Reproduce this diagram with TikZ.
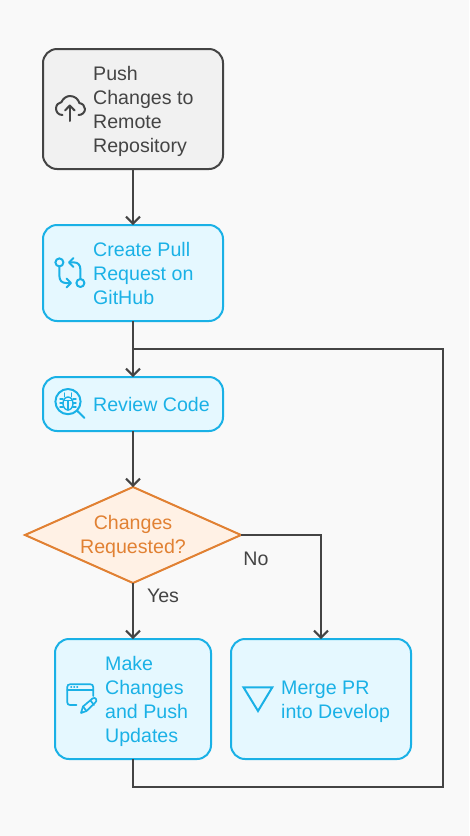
\documentclass[tikz,border=0pt]{standalone}
\usepackage{fontspec}
\setmainfont{Liberation Sans}
\usetikzlibrary{arrows.meta,shapes.geometric}
\definecolor{bgc}{HTML}{F9F9F9}
\definecolor{ink}{HTML}{444444}
\definecolor{blu}{HTML}{1AB1E6}
\definecolor{blufill}{HTML}{E5F8FF}
\definecolor{gryfill}{HTML}{F1F1F1}
\definecolor{org}{HTML}{E18133}
\definecolor{orgfill}{HTML}{FFF1E5}
\tikzset{
  x=1pt,y=-1pt,
  boxbase/.style={draw,line width=2pt,rounded corners=14pt,inner sep=0pt,outer sep=0pt,anchor=north west},
  graybox/.style={boxbase,draw=ink,fill=gryfill},
  bluebox/.style={boxbase,draw=blu,fill=blufill},
  orgdiamond/.style={diamond,draw=org,fill=orgfill,line width=2pt,aspect=2.25,inner sep=0pt,outer sep=0pt,minimum width=216pt,minimum height=96pt,
    text=org,align=center,font=\fontsize{19.6}{24}\selectfont},
  lab/.style={inner sep=0pt,anchor=west,align=left,font=\fontsize{19.6}{24}\selectfont},
  edgelab/.style={inner sep=0pt,text=ink,font=\fontsize{19.6}{24}\selectfont},
  conn/.style={draw=ink,line width=2pt,rounded corners=0pt},
  arr/.style={conn,-{Straight Barb[length=7pt,width=14pt,line width=2pt]}},
  ico/.style={line width=2pt,line cap=round,line join=round},
  icothin/.style={line width=1.4pt,line cap=round,line join=round}
}
\begin{document}
\begin{tikzpicture}
\useasboundingbox[fill=bgc] (0,0) rectangle (469,836);
% boxes
\node[graybox,minimum width=180pt,minimum height=120pt] (push) at (43,49) {};
\node[bluebox,minimum width=180pt,minimum height=96pt] (pull) at (43,225) {};
\node[bluebox,minimum width=180pt,minimum height=54pt] (review) at (43,377) {};
\node[orgdiamond] (dec) at (133,535) {\rule{0pt}{17.5pt}Changes\\Requested?};
\node[bluebox,minimum width=156pt,minimum height=120pt] (make) at (55,639) {};
\node[bluebox,minimum width=180pt,minimum height=120pt] (merge) at (231,639) {};
% texts
\node[lab,text=ink] (tpush) at (93,111.2) {Push\\Changes to\\Remote\\Repository};
\node[lab,text=blu] (tpull) at (93,273.8) {Create Pull\\Request on\\GitHub};
\node[lab,text=blu] (treview) at (93,404.3) {Review Code};
\node[lab,text=blu] (tmake) at (105,701.3) {Make\\Changes\\and Push\\Updates};
\node[lab,text=blu] (tmerge) at (281,701.5) {Merge PR\\into Develop};
\node[edgelab] (lno) at (256,558.6) {No};
\node[edgelab] (lyes) at (163,595.4) {Yes};
% connector helpers
\coordinate (a1) at (133,787);
\coordinate (a2) at (443,787);
\coordinate (a3) at (443,349);
\coordinate (a4) at (133,349);
\coordinate (b1) at (321,535);
% connectors
\draw[arr] (push.south) -- (pull.north);
\draw[arr] (pull.south) -- (review.north);
\draw[arr] (review.south) -- (dec.north);
\draw[arr] (dec.south) -- (make.north -| dec.south);
\draw[arr] (dec.east) -- (b1) -- (merge.north -| b1);
\draw[conn] (make.south -| a1) -- (a1) -- (a2) -- (a3) -- (a4);
% cloud icon
\begin{scope}[ico,draw=ink]
\draw (62.5,115) .. controls (58,115) and (56,111.5) .. (56,108.5)
  .. controls (56,105) and (58.5,102.5) .. (61.5,102)
  .. controls (63,98.5) and (66.5,96) .. (70,96)
  .. controls (75,96) and (78.5,99.5) .. (79.3,103)
  .. controls (82.5,103.5) and (85,106) .. (85,109)
  .. controls (85,112.5) and (82,115) .. (78.5,115);
\draw (69.8,121) -- (69.8,106);
\draw (65,110.5) -- (69.8,105.5) -- (74.6,110.5);
\end{scope}
% pull-request icon
\begin{scope}[ico,draw=blu]
\draw (59.4,262.4) circle (4);
\draw (80.4,283) circle (4);
\draw (59.4,266.4) -- (59.4,276) .. controls (59.4,280.5) and (62,283) .. (66,283) -- (70.5,283);
\draw (66.5,278.5) -- (71,283) -- (66.5,287.5);
\draw (80.4,279) -- (80.4,269.5) .. controls (80.4,265) and (78,262.4) .. (74,262.4) -- (69.5,262.4);
\draw (73.5,258) -- (69,262.4) -- (73.5,267);
\end{scope}
% bug-magnifier icon
\begin{scope}[ico,draw=blu]
\draw (68,401.6) circle (12.6);
\draw (77,410.6) -- (84.5,418);
\end{scope}
\begin{scope}[icothin,draw=blu]
\draw (68,403.5) ellipse (5 and 6.5);
\draw (63.5,400.5) -- (72.5,400.5);
\draw (68,400.5) -- (68,410);
\draw (64.5,393) -- (64.5,396.8) (71.5,393) -- (71.5,396.8);
\draw (60,399) -- (63,399) (60,403) -- (63,403) (60,407) -- (63,407);
\draw (73,399) -- (76,399) (73,403) -- (76,403) (73,407) -- (76,407);
\end{scope}
% window and pencil icon
\begin{scope}[icothin,draw=blu,line width=1.7pt]
\draw (76.5,705) -- (70,705) .. controls (68.3,705) and (67.3,704) .. (67.3,702.3) -- (67.3,687) .. controls (67.3,685.3) and (68.3,684.3) .. (70,684.3) -- (90.5,684.3) .. controls (92.2,684.3) and (93.2,685.3) .. (93.2,687) -- (93.2,696);
\draw (67.3,689.8) -- (93.2,689.8);
\draw (71,687) -- (71.5,687) (74,687) -- (74.5,687) (77,687) -- (77.5,687);
\draw (81,713) -- (83,706.5) -- (92.5,698.5) .. controls (94,697.2) and (95.5,698) .. (96,699) .. controls (96.8,700.2) and (96.5,701.5) .. (95.3,702.5) -- (86.5,711) -- cycle;
\draw (90.5,700.5) -- (94,705);
\draw (83,706.5) -- (86.5,711);
\end{scope}
% triangle icon
\draw[ico,draw=blu,line join=miter] (243.5,687.3) -- (272.3,687.3) -- (258,711) -- cycle;
\end{tikzpicture}
\end{document}
